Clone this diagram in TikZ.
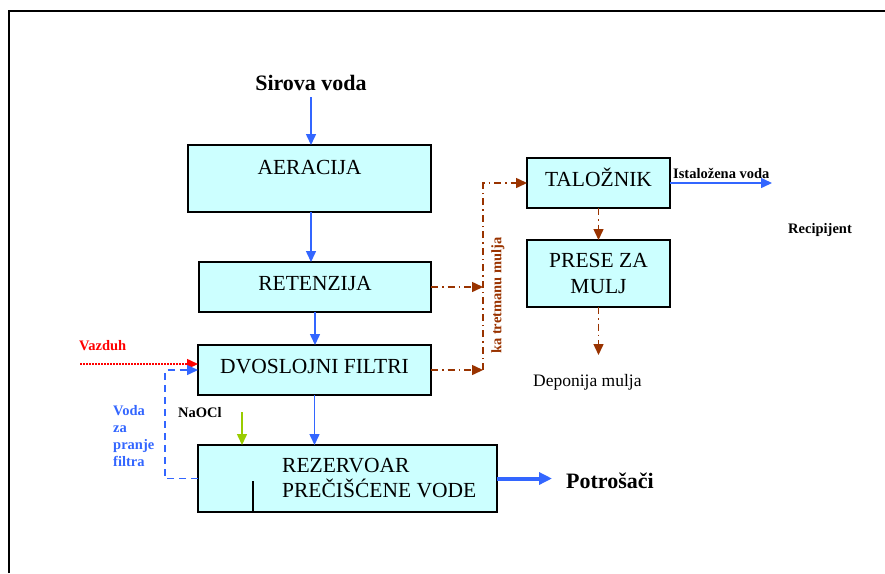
\documentclass[tikz,border=0pt]{standalone}
\usepackage{fontspec}
\setmainfont{Liberation Serif}
\usetikzlibrary{arrows.meta,positioning,calc}
\definecolor{boxcyan}{HTML}{CCFFFF}
\definecolor{flowblue}{HTML}{3366FF}
\definecolor{sludgebrown}{HTML}{993300}
\definecolor{airred}{HTML}{FF0000}
\definecolor{chlorgreen}{HTML}{99CC00}

\begin{document}
\begin{tikzpicture}[
  x=1pt, y=-1pt,
  unit/.style={draw=black, line width=1.3pt, fill=boxcyan, anchor=north west, inner sep=0pt,
               outer sep=0pt, align=center, font=\fontsize{21.5}{26}\selectfont},
  oneline/.style={text height=15pt, text depth=8.8pt},
  lbl/.style={inner sep=0pt, anchor=base west, font=\bfseries\fontsize{14.5}{17}\selectfont},
  big/.style={inner sep=0pt, font=\bfseries\fontsize{22}{26}\selectfont},
  flow/.style={draw=flowblue, line width=1.5pt, -{Triangle[length=11pt,width=10pt]}},
  sludge/.style={draw=sludgebrown, line width=1.5pt, dash pattern=on 7pt off 4pt on 1.5pt off 4pt,
                 -{Triangle[length=11pt,width=10pt]}}
]
\useasboundingbox (0,0) rectangle (885,573);
\draw[line width=1.5pt] (9,573) -- (9,11) -- (885,11);

% treatment line
\node[big, anchor=base] (sirova) at (311,90) {Sirova voda};
\node[unit, oneline, text depth=23.8pt, minimum width=243pt, minimum height=67pt] (aer) at (188,145) {AERACIJA};
\node[unit, oneline, minimum width=232pt, minimum height=50pt] (ret) at (199,262) {RETENZIJA};
\node[unit, oneline, minimum width=233pt, minimum height=50pt] (dvo) at (198,345) {DVOSLOJNI FILTRI};
\node[unit, minimum width=299pt, minimum height=67pt] (rez) at (198,445) {};
\node[anchor=west, inner sep=0pt, align=left, font=\fontsize{21.5}{25}\selectfont] (rezTxt) at (282,478.5) {REZERVOAR\\PREČIŠĆENE VODE};
\draw[line width=1.3pt] ($(rez.south west)+(55,0)$) -- ++(0,-31);
\node[big, anchor=base west] (pot) at (566,488) {Potrošači};

% sludge line
\node[unit, oneline, minimum width=143pt, minimum height=50pt] (tal) at (527,158) {TALOŽNIK};
\node[unit, minimum width=143pt, minimum height=67pt] (pre) at (527,240) {PRESE ZA\\MULJ};
\node[inner sep=0pt, anchor=base west, font=\fontsize{17.5}{20}\selectfont] (dep) at (533,386) {Deponija mulja};
\node[lbl, anchor=center, rotate=90, text=sludgebrown] (tret) at (498,295.5) {ka tretmanu mulja};

% side labels
\node[lbl, text=airred] (vaz) at (79,350) {Vazduh};
\node[lbl, text=flowblue, align=left, anchor=north west] (pranje) at (113,405) {Voda\\za\\pranje\\filtra};
\node[lbl] (naocl) at (178,417) {NaOCl};
\node[lbl] (ist) at (673,178) {Istaložena voda};
\node[lbl] (rec) at (788,233) {Recipijent};

\coordinate (airIn) at (80,364);
\coordinate (clIn) at (242,412);
\coordinate (mulj) at ($(dvo.east)+(52,0)$);
\coordinate (potEnd) at ($(rez.east)+(55,0)$);
\coordinate (istEnd) at ($(tal.east)+(102,0)$);
\coordinate (depEnd) at ($(pre.south)+(0,48)$);

\draw[flow, shorten <=7pt] (sirova.south) -- (aer.north -| sirova);
\draw[flow] (aer.south -| sirova) -- (ret.north -| sirova);
\draw[flow] (ret.south) -- (dvo.north -| ret.south);
\draw[flow] (dvo.south) -- (rez.north -| dvo.south);
\draw[draw=flowblue, line width=4pt, -{Triangle[length=13pt,width=12pt]}] (rez.east) -- (potEnd);
\draw[flow] (tal.east) -- (istEnd);
\draw[draw=chlorgreen, line width=1.5pt, -{Triangle[length=11pt,width=10pt]}] (clIn) -- (clIn |- rez.north);
\draw[draw=airred, line width=1.5pt, dash pattern=on 1.5pt off 1.5pt, -{Triangle[length=11pt,width=10pt]}] (airIn) -- (airIn -| dvo.west);
\draw[flow, dash pattern=on 7pt off 5pt] (rez.west) -- ++(-33,0) |- (dvo.west);

\draw[sludge] (ret.east) -- (ret.east -| mulj);
\draw[sludge] (dvo.east) -- (mulj);
\draw[sludge] (mulj) |- (tal.west);
\draw[sludge] (tal.south) -- (pre.north);
\draw[sludge] (pre.south) -- (depEnd);
\end{tikzpicture}
\end{document}
